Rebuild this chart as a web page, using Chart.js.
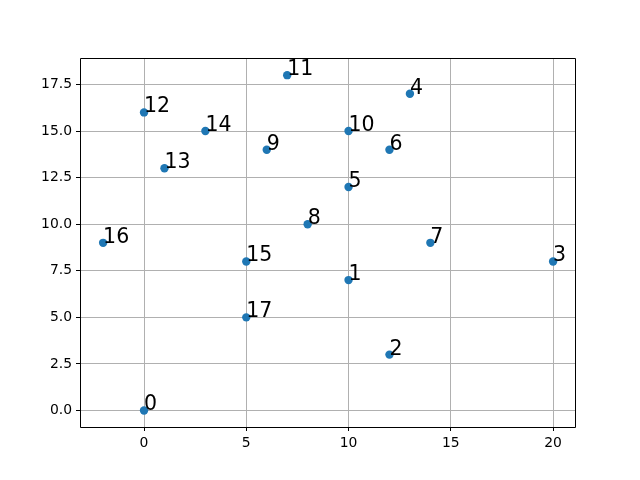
<!DOCTYPE html>
<html>
<head>
<meta charset="utf-8">
<script src="https://cdn.jsdelivr.net/npm/chart.js@4"></script>
<style>
html,body{margin:0;padding:0;background:#fff;}
canvas{display:block;}
</style>
</head>
<body>
<canvas id="c" width="640" height="480"></canvas>
<script>
const labels = ["0","1","2","3","4","5","6","7","8","9","10","11","12","13","14","15","16","17"];
const xValues = [0,10,12,20,13,10,12,14,8,6,10,7,0,1,3,5,-2,5];
const yValues = [0,7,3,8,17,12,14,9,10,14,15,18,16,13,15,8,9,5];
const xTicks = [0,5,10,15,20];
const yTicks = [0,2.5,5,7.5,10,12.5,15,17.5];

const points = xValues.map((x,i)=>({x:x,y:yValues[i]}));

const frame = {
  id:'frame',
  afterDatasetsDraw(chart){
    const {ctx, chartArea:a, scales} = chart;
    const L=Math.round(a.left)+0.5, R=Math.round(a.right)-0.5, T=Math.round(a.top)+0.5, B=Math.round(a.bottom)+0.5;
    ctx.save();
    ctx.strokeStyle='#000';
    ctx.lineWidth=1;
    ctx.beginPath();
    ctx.moveTo(L,T); ctx.lineTo(R,T); ctx.lineTo(R,B); ctx.lineTo(L,B); ctx.closePath();
    ctx.stroke();
    ctx.fillStyle='#000';
    ctx.font='20.5px "DejaVu Sans"';
    ctx.textAlign='left';
    ctx.textBaseline='alphabetic';
    labels.forEach((t,i)=>{
      ctx.fillText(t, scales.x.getPixelForValue(xValues[i]), scales.y.getPixelForValue(yValues[i]));
    });
    ctx.restore();
  }
};

new Chart(document.getElementById('c'), {
  type:'scatter',
  data:{datasets:[{data:points, backgroundColor:'#1f77b4', borderColor:'#1f77b4', pointRadius:4.2, pointHoverRadius:4.2, borderWidth:0}]},
  options:{
    responsive:false, animation:false,
    layout:{padding:{left:0,top:58,right:64,bottom:0}},
    plugins:{legend:{display:false}, tooltip:{enabled:false}},
    scales:{
      x:{type:'linear', min:-3.13, max:21.12,
        afterBuildTicks(s){ s.ticks = xTicks.map(v=>({value:v})); },
        afterFit(s){ s.height=53; },
        grid:{color:'#b0b0b0', lineWidth:1, tickLength:4, tickColor:'#000'},
        border:{display:false},
        ticks:{color:'#000', padding:4, maxRotation:0, font:{family:'DejaVu Sans', size:13.9}, callback:(v)=>String(v)}
      },
      y:{type:'linear', min:-0.886, max:18.921,
        afterBuildTicks(s){ s.ticks = yTicks.map(v=>({value:v})); },
        afterFit(s){ s.width=80; },
        grid:{color:'#b0b0b0', lineWidth:1, tickLength:4, tickColor:'#000'},
        border:{display:false},
        ticks:{color:'#000', padding:4, font:{family:'DejaVu Sans', size:13.9}, callback:(v)=>Number(v).toFixed(1)}
      }
    }
  },
  plugins:[frame]
});
</script>
</body>
</html>
